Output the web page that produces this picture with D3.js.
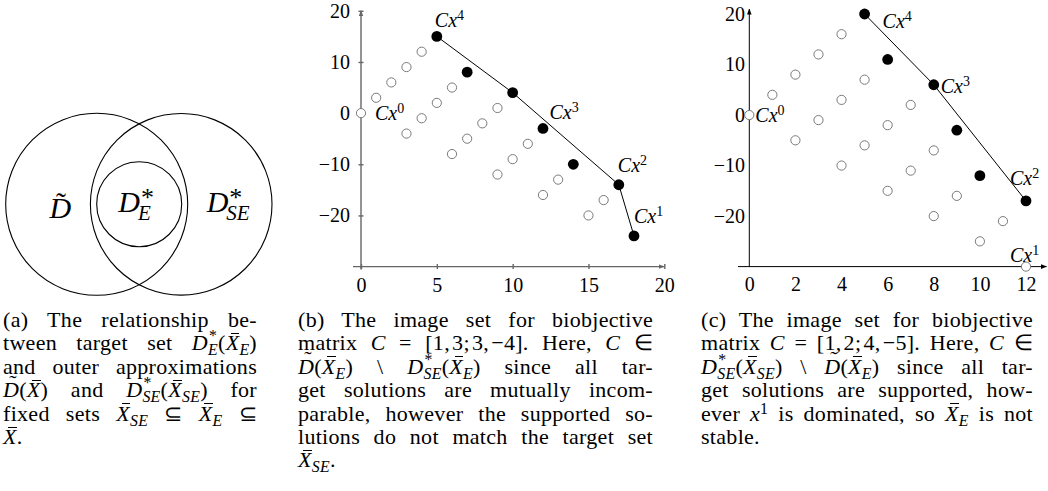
<!DOCTYPE html>
<html>
<head>
<meta charset="utf-8">
<script src="https://cdn.jsdelivr.net/npm/d3@7"></script>
<style>
body { margin: 0; background: #fff; }
#fig { position: relative; width: 1048px; height: 491px; overflow: hidden; background: #fff; }
#fig svg { position: absolute; left: 0; top: 0; }
.cap { position: absolute; font-size: 22px; letter-spacing: 0.3px; line-height: 23.4px; color: #000; }
.cap * { font-family: inherit; }
.cap .ln { text-align: justify; text-align-last: justify; }
.cap .ln.last { text-align-last: left; }
.cap sub { font-size: 0.72em; line-height: 0; vertical-align: -5px; }
.cap sup { font-size: 0.72em; line-height: 0; vertical-align: 7px; }
.cap .bar { background: linear-gradient(#000, #000) no-repeat; background-size: 0.5em 1px; background-position: 0.24em 0.12em; }
.cap .tl { position: relative; }
.cap .tl::after { content: "\02DC"; position: absolute; left: 0.28em; top: -0.3em; font-style: normal; }
.cap .ss { display: inline-block; font-size: 0.72em; line-height: 0; }
.cap .ss > span { display: block; position: relative; }
.cap .ss > .u { top: -9px; left: 1px; }
.cap .ss > .d { top: 5px; }
</style>
</head>
<body>
<div id="fig"></div>
<script>
var serif = "'Liberation Serif', 'Times New Roman', serif";

// ---- data -------------------------------------------------------------

// (b) C = [1,3;3,-4]
var dominatedB = [[0,0],[1,3],[2,6],[3,9],[4,12],[3,-4],[4,-1],[5,2],[6,5],[6,-8],[7,-5],[8,-2],[9,1],
                  [9,-12],[10,-9],[11,-6],[12,-16],[13,-13],[15,-20],[16,-17]];
var efficientB = [[5,15],[7,8],[10,4],[12,-3],[14,-10],[17,-14],[18,-24]];
var frontierB = [[5,15],[10,4],[17,-14],[18,-24]];
var targetsB = [[0,0,0],[18,-24,1],[17,-14,2],[12,-3,3],[5,15,4]]; // x, y, index of x^i
var xTicksB = [0, 5, 10, 15, 20];

// (c) C = [1,2;4,-5]
var dominatedC = [[0,0],[1,4],[2,8],[3,12],[4,16],[2,-5],[3,-1],[4,3],[5,7],[4,-10],[5,-6],[6,-2],[7,2],
                  [6,-15],[7,-11],[8,-7],[8,-20],[9,-16],[10,-25],[11,-21],[12,-30]];
var efficientC = [[5,20],[6,11],[8,6],[9,-3],[10,-12],[12,-17]];
var frontierC = [[5,20],[8,6],[12,-17]];
var targetsC = [[0,0,0],[12,-30,1],[12,-17,2],[8,6,3],[5,20,4]];
var xTicksC = [0, 2, 4, 6, 8, 10, 12];

var yDomain = [-30, 20];
var yTicks = [-20, -10, 0, 10, 20];

// caption text, one entry per printed line
var I = function(s) { return '<i>' + s + '</i>'; };
var Xb = function(sub) { return '<span class="bar"><i>X</i></span>' + (sub ? '<sub><i>' + sub + '</i></sub>' : ''); };
var Dt = '<span class="tl"><i>D</i></span>';
var Ds = function(sub) { return '<i>D</i><span class="ss"><span class="u">*</span><span class="d"><i>' + sub + '</i></span></span>'; };

var captionA = [
  '(a) The relationship be-',
  'tween target set ' + Ds('E') + '(' + Xb('E') + ')',
  'and outer approximations',
  Dt + '(' + Xb() + ') and ' + Ds('SE') + '(' + Xb('SE') + ') for',
  'fixed sets ' + Xb('SE') + ' ⊆ ' + Xb('E') + ' ⊆',
  Xb() + '.'
];
var captionB = [
  '(b) The image set for biobjective',
  'matrix ' + I('C') + ' = [1,\u200a3;\u200a3,\u200a−4]. Here, ' + I('C') + ' ∈',
  Dt + '(' + Xb('E') + ') \\ ' + Ds('SE') + '(' + Xb('E') + ') since all tar-',
  'get solutions are mutually incom-',
  'parable, however the supported so-',
  'lutions do not match the target set',
  Xb('SE') + '.'
];
var captionC = [
  '(c) The image set for biobjective',
  'matrix ' + I('C') + ' = [1,\u200a2;\u200a4,\u200a−5]. Here, ' + I('C') + ' ∈',
  Ds('SE') + '(' + Xb('SE') + ') \\ ' + Dt + '(' + Xb('E') + ') since all tar-',
  'get solutions are supported, how-',
  'ever ' + I('x') + '<sup>1</sup> is dominated, so ' + Xb('E') + ' is not',
  'stable.'
];

// ---- drawing ----------------------------------------------------------

var svg = d3.select('#fig').append('svg').attr('width', 1048).attr('height', 491);
var defs = svg.append('defs');

function arrowMarker(id, color) {
  defs.append('marker').attr('id', id)
    .attr('viewBox', '0 -3 6 6').attr('refX', 5.5).attr('refY', 0)
    .attr('markerWidth', 6).attr('markerHeight', 6)
    .attr('markerUnits', 'userSpaceOnUse').attr('orient', 'auto')
    .append('path').attr('d', 'M0,-2.3L6,0L0,2.3Z').attr('fill', color);
}
arrowMarker('arrGray', '#666');
arrowMarker('arrBlack', '#000');

// (a) venn diagram
var venn = svg.append('g').attr('fill', 'none').attr('stroke', '#000').attr('stroke-width', 1.1);
[[96.7, 204.3, 91], [181.2, 204.3, 90.8], [139.2, 204.2, 42.5]].forEach(function(c) {
  venn.append('circle').attr('cx', c[0]).attr('cy', c[1]).attr('r', c[2]);
});

function txt(x, y, size, s, italic) {
  return svg.append('text').attr('x', x).attr('y', y).style('font-family', serif)
    .style('font-size', size + 'px').style('font-style', italic ? 'italic' : 'normal').text(s);
}
function mathSym(x, y, base, sup, sub, size) {
  var w = txt(x, y, size, base, true).node().getComputedTextLength();
  if (sup) txt(x + w + 1, y - 6, 26, sup, false);
  if (sub) txt(x + w - 2, y + 8.5, 21, sub, true);
}
mathSym(49.5, 218.3, 'D', null, null, 30);
txt(56, 213, 30, '\u02DC', false);
mathSym(118.3, 211.7, 'D', '*', 'E', 30);
mathSym(206.7, 211.7, 'D', '*', 'SE', 30);

function drawPanel(p) {
  var x = d3.scaleLinear().domain(p.xDomain).range(p.xRange);
  var y = d3.scaleLinear().domain(yDomain).range(p.yRange);
  var g = svg.append('g');
  var y0 = y(yDomain[0]);

  // axes with arrow heads
  g.append('line').attr('x1', p.xAxisFrom).attr('x2', p.xAxisTo).attr('y1', y0).attr('y2', y0)
    .attr('stroke', p.axisColor).attr('stroke-width', p.axisWidth).attr('marker-end', 'url(#' + p.marker + ')');
  g.append('line').attr('x1', x(0)).attr('x2', x(0)).attr('y1', y0 + p.yAxisBelow).attr('y2', p.yAxisTo)
    .attr('stroke', p.axisColor).attr('stroke-width', p.axisWidth).attr('marker-end', 'url(#' + p.marker + ')');

  var xa = g.append('g').attr('transform', 'translate(0,' + y0 + ')')
    .call(d3.axisBottom(x).tickValues(p.xTicks).tickSize(p.tick).tickPadding(p.xPad));
  var ya = g.append('g').attr('transform', 'translate(' + x(0) + ',0)')
    .call(d3.axisLeft(y).tickValues(yTicks).tickSize(p.tick).tickPadding(p.yPad));
  [xa, ya].forEach(function(a) {
    a.select('.domain').remove();
    a.selectAll('text').style('font-family', serif).style('font-size', '20px');
    a.selectAll('.tick line').attr('stroke', p.axisColor).attr('stroke-width', p.axisWidth);
  });
  xa.selectAll('.tick line').attr('y1', -p.tick);
  ya.selectAll('.tick line').attr('x1', p.tick);
  if (!p.tick) { xa.selectAll('.tick line').remove(); ya.selectAll('.tick line').remove(); }

  // supported frontier
  g.append('path').datum(p.frontier)
    .attr('d', d3.line().x(function(d) { return x(d[0]); }).y(function(d) { return y(d[1]); }))
    .attr('fill', 'none').attr('stroke', '#000').attr('stroke-width', 1);

  g.selectAll('circle.dom').data(p.dominated).join('circle').attr('class', 'dom')
    .attr('cx', function(d) { return x(d[0]); }).attr('cy', function(d) { return y(d[1]); })
    .attr('r', 4.6).attr('fill', '#fff').attr('stroke', '#7a7a7a').attr('stroke-width', 1);
  g.selectAll('circle.eff').data(p.efficient).join('circle').attr('class', 'eff')
    .attr('cx', function(d) { return x(d[0]); }).attr('cy', function(d) { return y(d[1]); })
    .attr('r', 5.4).attr('fill', '#000');

  var lab = g.selectAll('text.lab').data(p.targets).join('text').attr('class', 'lab')
    .attr('x', function(d) { return x(d[0]) + p.labelOff[d[2]][0]; })
    .attr('y', function(d) { return y(d[1]) + p.labelOff[d[2]][1]; })
    .style('font-family', serif).style('font-size', '20px');
  lab.append('tspan').style('font-style', 'italic').text('Cx');
  lab.append('tspan').style('font-size', '14px').attr('dy', -7).text(function(d) { return d[2]; });
}

drawPanel({
  xDomain: [0, 20], xRange: [361, 664.3], yRange: [266.6, 10.8],
  xTicks: xTicksB, dominated: dominatedB, efficient: efficientB, frontier: frontierB, targets: targetsB,
  axisColor: '#666', axisWidth: 1.4, marker: 'arrGray', tick: 2.5, xPad: 9, yPad: 8.5,
  xAxisFrom: 353, xAxisTo: 664.3, yAxisBelow: 3, yAxisTo: 10.8,
  labelOff: {0: [14, 7], 1: [0, -13], 2: [-1, -12.5], 3: [6.5, -9], 4: [-2, -9]}
});
drawPanel({
  xDomain: [0, 12], xRange: [749.3, 1026], yRange: [266.6, 14],
  xTicks: xTicksC, dominated: dominatedC, efficient: efficientC, frontier: frontierC, targets: targetsC,
  axisColor: '#000', axisWidth: 1, marker: 'arrBlack', tick: 0, xPad: 10, yPad: 4.3,
  xAxisFrom: 738, xAxisTo: 1046.5, yAxisBelow: 0, yAxisTo: 9,
  labelOff: {0: [6, 7], 1: [-16, -5], 2: [-16, -16], 3: [7, 8], 4: [18, 14]}
});

// captions
var captions = [
  {left: 3, width: 254, lines: captionA},
  {left: 298, width: 355, lines: captionB},
  {left: 701, width: 332, lines: captionC}
];
d3.select('#fig').selectAll('div.cap').data(captions).join('div').attr('class', 'cap')
  .style('left', function(d) { return d.left + 'px'; }).style('top', '308px')
  .style('width', function(d) { return d.width + 'px'; })
  .style('font-family', serif)
  .each(function(d) {
    d3.select(this).selectAll('div').data(d.lines).join('div')
      .attr('class', function(l, i) { return i === d.lines.length - 1 ? 'ln last' : 'ln'; })
      .html(function(l) { return l; });
  });
</script>
</body>
</html>
